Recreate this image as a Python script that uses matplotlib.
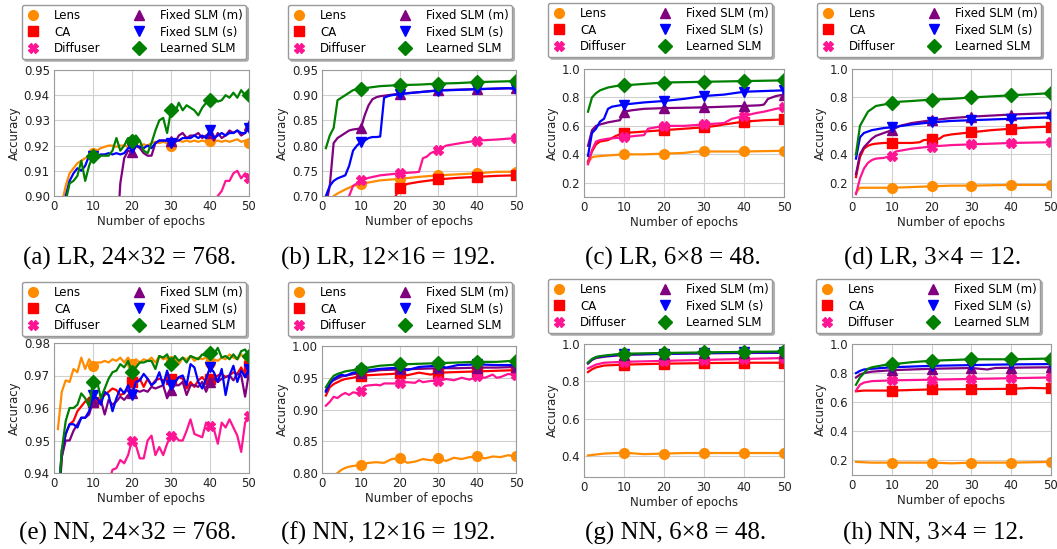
import numpy as np
import matplotlib
matplotlib.use("Agg")
import matplotlib.pyplot as plt
from matplotlib.lines import Line2D

# ---- series names / styles --------------------------------------------------
NAMES = ["Lens", "CA", "Diffuser", "Fixed SLM (m)", "Fixed SLM (s)", "Learned SLM"]
COLORS = ["darkorange", "red", "deeppink", "purple", "blue", "green"]
MARKERS = ["o", "s", "X", "^", "v", "D"]

EP = list(range(1, 51))

# ---- (a) LR, 24x32 ----------------------------------------------------------
A_LENS_X = EP
A_LENS = [0.885, 0.897, 0.904, 0.909, 0.911, 0.913, 0.914, 0.915, 0.916, 0.917,
          0.918, 0.919, 0.9195, 0.920, 0.920, 0.9195, 0.920, 0.920, 0.9195, 0.9205,
          0.9195, 0.920, 0.9205, 0.920, 0.921, 0.9215, 0.921, 0.9215, 0.921, 0.920,
          0.9215, 0.922, 0.9215, 0.922, 0.9215, 0.922, 0.9215, 0.922, 0.9215, 0.922,
          0.9215, 0.922, 0.9215, 0.922, 0.9215, 0.922, 0.9225, 0.9215, 0.922, 0.921]
A_CA_X = [1, 5, 10, 20, 30, 40, 50]
A_CA = [0.80, 0.85, 0.87, 0.88, 0.885, 0.89, 0.892]
A_DIF_X = [1, 10, 20, 30, 40, 41, 42, 43, 44, 45, 46, 47, 48, 49, 50]
A_DIF = [0.70, 0.80, 0.85, 0.88, 0.895, 0.898, 0.900, 0.902, 0.906, 0.906,
         0.909, 0.910, 0.907, 0.909, 0.907]
A_FM_X = [1, 10, 16] + list(range(17, 51))
A_FM = [0.70, 0.83, 0.88,
        0.905, 0.915, 0.918, 0.9175, 0.920, 0.919, 0.917, 0.916, 0.916, 0.921,
        0.922, 0.922, 0.922, 0.922, 0.921, 0.924, 0.925, 0.923, 0.924, 0.924,
        0.925, 0.923, 0.924, 0.925, 0.922, 0.925, 0.923, 0.924, 0.926, 0.925,
        0.926, 0.924, 0.925, 0.928]
A_FS_X = EP
A_FS = [0.880, 0.893, 0.900, 0.906, 0.909, 0.911, 0.910, 0.912, 0.916, 0.916,
        0.916, 0.9165, 0.9165, 0.917, 0.9165, 0.917, 0.9165, 0.917, 0.919, 0.919,
        0.920, 0.9195, 0.919, 0.920, 0.919, 0.921, 0.922, 0.922, 0.922, 0.921,
        0.922, 0.922, 0.923, 0.923, 0.923, 0.924, 0.923, 0.924, 0.923, 0.926,
        0.923, 0.924, 0.925, 0.924, 0.925, 0.925, 0.926, 0.925, 0.925, 0.927]
A_LS_X = EP
A_LS = [0.860, 0.880, 0.898, 0.905, 0.906, 0.908, 0.914, 0.906, 0.912, 0.916,
        0.915, 0.916, 0.916, 0.916, 0.918, 0.923, 0.918, 0.920, 0.923, 0.922,
        0.924, 0.922, 0.918, 0.917, 0.921, 0.926, 0.930, 0.931, 0.925, 0.934,
        0.933, 0.937, 0.934, 0.936, 0.935, 0.934, 0.932, 0.935, 0.937, 0.938,
        0.938, 0.9375, 0.938, 0.940, 0.939, 0.941, 0.939, 0.942, 0.940, 0.940]

# ---- (b) LR, 12x16 ----------------------------------------------------------
B_LENS_X = [1, 2, 3, 4, 6, 8, 10, 15, 20, 25, 30, 35, 40, 45, 50]
B_LENS = [0.66, 0.685, 0.700, 0.705, 0.713, 0.720, 0.724, 0.731, 0.734, 0.738,
          0.741, 0.743, 0.745, 0.748, 0.748]
B_CA_X = [1, 10, 18, 19, 20, 21, 22, 25, 30, 35, 40, 45, 50]
B_CA = [0.62, 0.66, 0.69, 0.700, 0.716, 0.720, 0.724, 0.728, 0.733, 0.736,
        0.738, 0.740, 0.741]
B_DIF_X = [1, 6, 7, 8, 9, 10, 12, 15, 20, 22, 24, 25, 26, 27, 28, 30, 32, 35,
           40, 45, 50]
B_DIF = [0.60, 0.68, 0.700, 0.720, 0.725, 0.731, 0.736, 0.741, 0.745, 0.746,
         0.747, 0.748, 0.775, 0.778, 0.785, 0.792, 0.800, 0.804, 0.810, 0.812,
         0.815]
B_FM_X = [1, 2, 3, 4, 5, 6, 7, 8, 9, 10, 11, 12, 13, 14, 15, 16, 17, 20, 25,
          30, 40, 45, 50]
B_FM = [0.68, 0.72, 0.805, 0.815, 0.820, 0.825, 0.830, 0.832, 0.833, 0.834,
        0.860, 0.880, 0.892, 0.896, 0.898, 0.899, 0.900, 0.903, 0.906, 0.910,
        0.912, 0.913, 0.914]
B_FS_X = [1, 2, 3, 4, 5, 6, 7, 8, 9, 10, 11, 12, 13, 14, 15, 16, 17, 18, 20,
          25, 30, 40, 48, 50]
B_FS = [0.700, 0.720, 0.730, 0.735, 0.738, 0.741, 0.760, 0.790, 0.800, 0.807,
        0.810, 0.815, 0.817, 0.817, 0.818, 0.895, 0.898, 0.900, 0.902, 0.906,
        0.909, 0.912, 0.914, 0.912]
B_LS_X = [1, 2, 3, 4, 5, 6, 7, 8, 9, 10, 12, 15, 20, 25, 30, 35, 40, 45, 50]
B_LS = [0.795, 0.820, 0.835, 0.890, 0.895, 0.900, 0.905, 0.910, 0.912, 0.913,
        0.915, 0.918, 0.920, 0.921, 0.923, 0.924, 0.926, 0.927, 0.928]

# ---- (c) LR, 6x8 ------------------------------------------------------------
C_LENS_X = [1, 2, 3, 5, 10, 15, 20, 25, 28, 30, 40, 50]
C_LENS = [0.34, 0.38, 0.385, 0.39, 0.40, 0.40, 0.405, 0.41, 0.42, 0.42, 0.42, 0.425]
C_CA_X = [1, 2, 3, 4, 6, 8, 10, 15, 20, 25, 30, 33, 35, 40, 45, 50]
C_CA = [0.35, 0.42, 0.47, 0.49, 0.50, 0.53, 0.55, 0.56, 0.57, 0.58, 0.59, 0.60,
        0.61, 0.63, 0.64, 0.645]
C_DIF_X = [1, 2, 3, 4, 5, 6, 8, 10, 13, 15, 16, 18, 20, 25, 30, 35, 37, 40, 43,
           45, 48, 50]
C_DIF = [0.33, 0.43, 0.49, 0.50, 0.505, 0.51, 0.515, 0.52, 0.53, 0.535, 0.58,
         0.59, 0.60, 0.60, 0.61, 0.62, 0.65, 0.67, 0.69, 0.70, 0.72, 0.73]
C_FM_X = [1, 2, 3, 4, 6, 8, 9, 10, 12, 15, 20, 30, 40, 44, 45, 46, 48, 50]
C_FM = [0.46, 0.57, 0.60, 0.61, 0.625, 0.635, 0.64, 0.70, 0.71, 0.72, 0.725,
        0.73, 0.74, 0.745, 0.75, 0.79, 0.81, 0.82]
C_FS_X = [1, 2, 3, 4, 5, 6, 7, 8, 10, 15, 20, 25, 30, 35, 40, 45, 50]
C_FS = [0.39, 0.55, 0.58, 0.63, 0.65, 0.72, 0.735, 0.74, 0.75, 0.765, 0.775,
        0.79, 0.81, 0.82, 0.84, 0.845, 0.85]
C_LS_X = [1, 2, 3, 4, 5, 6, 8, 10, 15, 20, 30, 40, 50]
C_LS = [0.70, 0.80, 0.83, 0.85, 0.86, 0.87, 0.88, 0.885, 0.895, 0.905, 0.91,
        0.915, 0.92]

# ---- (d) LR, 3x4 ------------------------------------------------------------
D_LENS_X = [1, 2, 3, 5, 10, 15, 20, 25, 30, 40, 50]
D_LENS = [0.13, 0.165, 0.165, 0.165, 0.165, 0.17, 0.175, 0.18, 0.18, 0.185, 0.185]
D_CA_X = [1, 2, 3, 4, 5, 6, 8, 10, 15, 17, 18, 20, 22, 23, 25, 30, 35, 40, 45, 50]
D_CA = [0.24, 0.38, 0.44, 0.46, 0.47, 0.475, 0.48, 0.48, 0.48, 0.485, 0.50,
        0.505, 0.51, 0.53, 0.54, 0.555, 0.57, 0.58, 0.59, 0.595]
D_DIF_X = [1, 2, 3, 4, 5, 6, 8, 10, 11, 13, 15, 20, 25, 30, 40, 50]
D_DIF = [0.12, 0.23, 0.30, 0.34, 0.36, 0.37, 0.375, 0.39, 0.42, 0.43, 0.44,
         0.455, 0.465, 0.47, 0.48, 0.485]
D_FM_X = [1, 2, 3, 4, 5, 6, 8, 10, 12, 15, 20, 25, 30, 40, 50]
D_FM = [0.26, 0.40, 0.45, 0.48, 0.51, 0.53, 0.55, 0.57, 0.60, 0.62, 0.64,
        0.655, 0.665, 0.68, 0.69]
D_FS_X = [1, 2, 3, 4, 5, 6, 8, 10, 15, 20, 25, 30, 40, 50]
D_FS = [0.37, 0.52, 0.55, 0.56, 0.57, 0.575, 0.585, 0.59, 0.61, 0.625, 0.635,
        0.64, 0.65, 0.66]
D_LS_X = [1, 2, 3, 4, 5, 6, 8, 10, 12, 15, 20, 25, 30, 40, 50]
D_LS = [0.40, 0.60, 0.65, 0.70, 0.72, 0.74, 0.75, 0.76, 0.77, 0.775, 0.785,
        0.79, 0.80, 0.815, 0.83]

# ---- (e) NN, 24x32 ----------------------------------------------------------
E_LENS_X = EP
E_LENS = [0.9535, 0.965, 0.9685, 0.968, 0.972, 0.971, 0.9755, 0.972, 0.975, 0.973,
          0.974, 0.974, 0.9745, 0.974, 0.975, 0.9745, 0.9755, 0.974, 0.9755, 0.9735,
          0.975, 0.974, 0.975, 0.9745, 0.9755, 0.974, 0.976, 0.975, 0.9755, 0.9745,
          0.975, 0.9735, 0.9755, 0.975, 0.976, 0.9745, 0.9755, 0.975, 0.9755, 0.974,
          0.975, 0.9745, 0.9755, 0.975, 0.9765, 0.9755, 0.975, 0.9765, 0.975, 0.9745]
E_CA_X = EP
E_CA = [0.930, 0.945, 0.952, 0.955, 0.956, 0.959, 0.9605, 0.962, 0.963, 0.962,
        0.961, 0.963, 0.964, 0.965, 0.966, 0.9655, 0.964, 0.9645, 0.966, 0.968,
        0.9675, 0.969, 0.9665, 0.969, 0.967, 0.9685, 0.969, 0.9685, 0.969, 0.969,
        0.968, 0.9695, 0.969, 0.966, 0.968, 0.9665, 0.9685, 0.9695, 0.968, 0.969,
        0.969, 0.970, 0.9705, 0.9695, 0.970, 0.971, 0.9705, 0.9725, 0.970, 0.973]
E_DIF_X = [1, 10, 14] + list(range(15, 51))
E_DIF = [0.85, 0.92, 0.937,
         0.941, 0.9415, 0.944, 0.943, 0.9455, 0.950, 0.9485, 0.9445, 0.9445, 0.950,
         0.9515, 0.9455, 0.948, 0.9455, 0.949, 0.9515, 0.9515, 0.950, 0.950, 0.953,
         0.9565, 0.952, 0.9515, 0.951, 0.9555, 0.9545, 0.9535, 0.949, 0.9555, 0.954,
         0.9565, 0.954, 0.9515, 0.9465, 0.9555, 0.9575]
E_FM_X = EP
E_FM = [0.925, 0.945, 0.950, 0.950, 0.953, 0.955, 0.957, 0.957, 0.958, 0.962,
        0.961, 0.9625, 0.958, 0.9625, 0.961, 0.962, 0.9635, 0.9625, 0.964, 0.9645,
        0.9655, 0.965, 0.9655, 0.965, 0.9665, 0.966, 0.9665, 0.967, 0.963, 0.9655,
        0.967, 0.967, 0.968, 0.964, 0.967, 0.967, 0.9665, 0.968, 0.965, 0.968,
        0.969, 0.968, 0.969, 0.9695, 0.970, 0.9685, 0.9705, 0.970, 0.9635, 0.971]
E_FS_X = EP
E_FS = [0.930, 0.947, 0.952, 0.955, 0.955, 0.954, 0.957, 0.957, 0.959, 0.964,
        0.963, 0.961, 0.965, 0.964, 0.959, 0.963, 0.966, 0.9645, 0.967, 0.964,
        0.968, 0.9685, 0.9705, 0.969, 0.967, 0.968, 0.971, 0.967, 0.9715, 0.967,
        0.968, 0.9695, 0.970, 0.967, 0.9735, 0.9725, 0.968, 0.966, 0.969, 0.9725,
        0.971, 0.968, 0.972, 0.964, 0.970, 0.973, 0.968, 0.9715, 0.9695, 0.972]
E_LS_X = EP
E_LS = [0.930, 0.947, 0.956, 0.960, 0.960, 0.961, 0.9645, 0.963, 0.9605, 0.968,
        0.9685, 0.963, 0.966, 0.969, 0.971, 0.9715, 0.9735, 0.9725, 0.9745, 0.971,
        0.9725, 0.974, 0.974, 0.9745, 0.9745, 0.972, 0.976, 0.9755, 0.9765, 0.9735,
        0.976, 0.9745, 0.9755, 0.974, 0.976, 0.9755, 0.975, 0.9765, 0.976, 0.977,
        0.9765, 0.9785, 0.9755, 0.976, 0.975, 0.9765, 0.975, 0.9775, 0.978, 0.976]

# ---- (f) NN, 12x16 ----------------------------------------------------------
F_LENS_X = [1, 3, 4, 5, 6, 7, 8, 10, 12, 14, 16, 18, 20, 22, 24, 26, 28, 30,
            32, 34, 36, 38, 40, 42, 44, 46, 48, 50]
F_LENS = [0.780, 0.795, 0.800, 0.805, 0.808, 0.810, 0.811, 0.813, 0.816, 0.817,
          0.816, 0.822, 0.823, 0.816, 0.818, 0.822, 0.820, 0.823, 0.819, 0.824,
          0.822, 0.825, 0.826, 0.823, 0.826, 0.825, 0.828, 0.826]
F_CA_X = [1, 2, 3, 4, 5, 6, 8, 10, 12, 15, 18, 20, 22, 25, 28, 30, 35, 40, 45, 50]
F_CA = [0.922, 0.935, 0.940, 0.943, 0.946, 0.948, 0.950, 0.953, 0.954, 0.955,
        0.956, 0.957, 0.954, 0.958, 0.955, 0.958, 0.959, 0.960, 0.961, 0.962]
F_DIF_X = [1, 2, 3, 4, 5, 6, 7, 8, 9, 10, 11, 12, 14, 15, 16, 18, 20, 22, 24,
           25, 26, 28, 30, 32, 34, 36, 38, 40, 42, 44, 45, 46, 48, 50]
F_DIF = [0.906, 0.912, 0.920, 0.918, 0.923, 0.926, 0.923, 0.927, 0.926, 0.929,
         0.937, 0.938, 0.939, 0.938, 0.941, 0.941, 0.941, 0.943, 0.942, 0.946,
         0.943, 0.945, 0.945, 0.948, 0.946, 0.950, 0.947, 0.952, 0.950, 0.955,
         0.950, 0.951, 0.956, 0.954]
F_FM_X = [1, 2, 5, 10, 15, 20, 25, 30, 35, 40, 45, 50]
F_FM = [0.930, 0.943, 0.952, 0.958, 0.962, 0.963, 0.964, 0.965, 0.965, 0.966,
        0.966, 0.967]
F_FS_X = [1, 2, 3, 4, 5, 6, 8, 10, 12, 15, 20, 22, 25, 30, 32, 35, 40, 45, 50]
F_FS = [0.928, 0.940, 0.948, 0.952, 0.955, 0.953, 0.958, 0.960, 0.962, 0.964,
        0.966, 0.962, 0.967, 0.969, 0.966, 0.970, 0.971, 0.970, 0.970]
F_LS_X = [1, 2, 3, 4, 5, 6, 8, 10, 12, 15, 20, 25, 30, 35, 40, 45, 50]
F_LS = [0.935, 0.945, 0.953, 0.956, 0.958, 0.960, 0.962, 0.964, 0.966, 0.969,
        0.971, 0.972, 0.973, 0.974, 0.975, 0.975, 0.977]

# ---- (g) NN, 6x8 ------------------------------------------------------------
G_LENS_X = [1, 3, 5, 10, 15, 20, 25, 30, 40, 50]
G_LENS = [0.405, 0.41, 0.415, 0.42, 0.412, 0.415, 0.418, 0.418, 0.418, 0.418]
G_CA_X = [1, 2, 3, 5, 10, 20, 30, 40, 50]
G_CA = [0.85, 0.865, 0.875, 0.885, 0.89, 0.895, 0.898, 0.90, 0.90]
G_DIF_X = [1, 2, 3, 5, 10, 20, 30, 40, 50]
G_DIF = [0.87, 0.88, 0.89, 0.90, 0.905, 0.91, 0.915, 0.92, 0.925]
G_FM_X = [1, 2, 3, 5, 10, 20, 30, 40, 50]
G_FM = [0.895, 0.915, 0.925, 0.932, 0.942, 0.947, 0.950, 0.952, 0.953]
G_FS_X = [1, 2, 3, 5, 10, 20, 30, 40, 50]
G_FS = [0.90, 0.918, 0.93, 0.935, 0.945, 0.948, 0.952, 0.955, 0.955]
G_LS_X = [1, 2, 3, 4, 5, 8, 10, 20, 30, 40, 50]
G_LS = [0.90, 0.92, 0.93, 0.935, 0.938, 0.945, 0.948, 0.952, 0.955, 0.958, 0.960]

# ---- (h) NN, 3x4 ------------------------------------------------------------
H_LENS_X = [1, 5, 10, 20, 25, 30, 40, 50]
H_LENS = [0.19, 0.185, 0.185, 0.185, 0.18, 0.185, 0.185, 0.19]
H_CA_X = [1, 3, 10, 20, 30, 40, 45, 50]
H_CA = [0.675, 0.68, 0.68, 0.688, 0.69, 0.692, 0.698, 0.695]
H_DIF_X = [1, 2, 3, 5, 10, 20, 30, 40, 50]
H_DIF = [0.68, 0.72, 0.735, 0.745, 0.75, 0.755, 0.76, 0.765, 0.77]
H_FM_X = [1, 2, 3, 5, 10, 20, 30, 34, 36, 40, 50]
H_FM = [0.77, 0.79, 0.80, 0.81, 0.82, 0.83, 0.835, 0.825, 0.835, 0.837, 0.84]
H_FS_X = [1, 2, 3, 5, 10, 20, 30, 40, 50]
H_FS = [0.80, 0.815, 0.825, 0.83, 0.84, 0.85, 0.855, 0.86, 0.862]
H_LS_X = [1, 2, 3, 4, 5, 8, 10, 15, 20, 30, 40, 50]
H_LS = [0.72, 0.77, 0.80, 0.83, 0.84, 0.855, 0.86, 0.875, 0.885, 0.895, 0.895, 0.90]

CAPTIONS = ["(a) LR, 24\u00d732 = 768.", "(b) LR, 12\u00d716 = 192.",
            "(c) LR, 6\u00d78 = 48.", "(d) LR, 3\u00d74 = 12.",
            "(e) NN, 24\u00d732 = 768.", "(f) NN, 12\u00d716 = 192.",
            "(g) NN, 6\u00d78 = 48.", "(h) NN, 3\u00d74 = 12."]

PANELS = [
    [(A_LENS_X, A_LENS), (A_CA_X, A_CA), (A_DIF_X, A_DIF), (A_FM_X, A_FM), (A_FS_X, A_FS), (A_LS_X, A_LS)],
    [(B_LENS_X, B_LENS), (B_CA_X, B_CA), (B_DIF_X, B_DIF), (B_FM_X, B_FM), (B_FS_X, B_FS), (B_LS_X, B_LS)],
    [(C_LENS_X, C_LENS), (C_CA_X, C_CA), (C_DIF_X, C_DIF), (C_FM_X, C_FM), (C_FS_X, C_FS), (C_LS_X, C_LS)],
    [(D_LENS_X, D_LENS), (D_CA_X, D_CA), (D_DIF_X, D_DIF), (D_FM_X, D_FM), (D_FS_X, D_FS), (D_LS_X, D_LS)],
    [(E_LENS_X, E_LENS), (E_CA_X, E_CA), (E_DIF_X, E_DIF), (E_FM_X, E_FM), (E_FS_X, E_FS), (E_LS_X, E_LS)],
    [(F_LENS_X, F_LENS), (F_CA_X, F_CA), (F_DIF_X, F_DIF), (F_FM_X, F_FM), (F_FS_X, F_FS), (F_LS_X, F_LS)],
    [(G_LENS_X, G_LENS), (G_CA_X, G_CA), (G_DIF_X, G_DIF), (G_FM_X, G_FM), (G_FS_X, G_FS), (G_LS_X, G_LS)],
    [(H_LENS_X, H_LENS), (H_CA_X, H_CA), (H_DIF_X, H_DIF), (H_FM_X, H_FM), (H_FS_X, H_FS), (H_LS_X, H_LS)],
]

YLIMS = [(0.90, 0.95), (0.70, 0.95), (0.10, 1.0), (0.10, 1.0),
         (0.94, 0.98), (0.80, 1.00), (0.29, 1.0), (0.10, 1.0)]
YTICKS = [np.arange(0.90, 0.951, 0.01), np.arange(0.70, 0.951, 0.05),
          np.arange(0.2, 1.01, 0.2), np.arange(0.2, 1.01, 0.2),
          np.arange(0.94, 0.981, 0.01), np.arange(0.80, 1.001, 0.05),
          np.arange(0.4, 1.01, 0.2), np.arange(0.2, 1.01, 0.2)]
YFMT = ["%.2f", "%.2f", "%.1f", "%.1f", "%.2f", "%.2f", "%.1f", "%.1f"]

# layout in pixels: axes (left, right, top, bottom), legend (left, top), caption (x, y)
W, H = 1057, 549
AX_PX = [(54, 249, 70, 196), (322, 516, 70, 196), (584, 784, 69, 197), (852, 1051, 69, 197),
         (54, 249, 343, 473), (322, 516, 346, 473), (584, 784, 344, 477), (852, 1051, 344, 475)]
LEG_PX = [(22, 5), (288, 5), (548, 3), (817, 3), (22, 282), (288, 282), (548, 279), (816, 279)]
CAP_PX = [(130, 258), (388, 258), (673, 258), (933, 258),
          (128, 533), (388, 533), (676, 533), (934, 533)]

plt.rcParams["font.size"] = 8

fig = plt.figure(figsize=(W / 100, H / 100), dpi=100)

handles = [Line2D([], [], color=c, marker=m, linestyle="none", markersize=7)
           for c, m in zip(COLORS, MARKERS)]

for i, series in enumerate(PANELS):
    l, r, t, b = AX_PX[i]
    ax = fig.add_axes([l / W, 1 - b / H, (r - l) / W, (b - t) / H])
    for (x, y), c, m in zip(series, COLORS, MARKERS):
        x = np.array(x)
        y = np.array(y)
        ax.plot(x, y, color=c, lw=1.6)
        sel = (x % 10 == 0)
        ax.plot(x[sel], y[sel], color=c, marker=m, linestyle="none", markersize=7)
    ax.set_xlim(0, 50)
    ax.set_ylim(*YLIMS[i])
    ax.set_xticks([0, 10, 20, 30, 40, 50])
    ax.set_yticks(YTICKS[i])
    ax.set_yticklabels([YFMT[i] % v for v in YTICKS[i]])
    ax.grid(True, color="#d0d0d0", lw=0.8)
    ax.set_axisbelow(True)
    for s in ax.spines.values():
        s.set_color("#9a9a9a")
    ax.tick_params(length=0, pad=3, labelsize=8.5, colors="#222222")
    ax.set_xlabel("Number of epochs", fontsize=8.5, labelpad=1, color="#222222")
    ax.set_ylabel("Accuracy", fontsize=8.5, labelpad=2, color="#222222")

    lx, ly = LEG_PX[i]
    fig.legend(handles, NAMES, loc="upper left", bbox_to_anchor=(lx / W, 1 - ly / H),
               borderaxespad=0, ncol=2, fontsize=8.5, handlelength=1.2,
               handletextpad=1.2, columnspacing=2.6, labelspacing=0.32,
               borderpad=0.32, frameon=True, fancybox=True, edgecolor="#999999",
               framealpha=1, shadow={"ox": 1.5, "oy": -1.5, "alpha": 0.35})

    cx, cy = CAP_PX[i]
    fig.text(cx / W, 1 - cy / H, CAPTIONS[i], ha="center", va="center",
             family="Liberation Serif", fontsize=18)

fig.savefig("out.png", dpi=100)
